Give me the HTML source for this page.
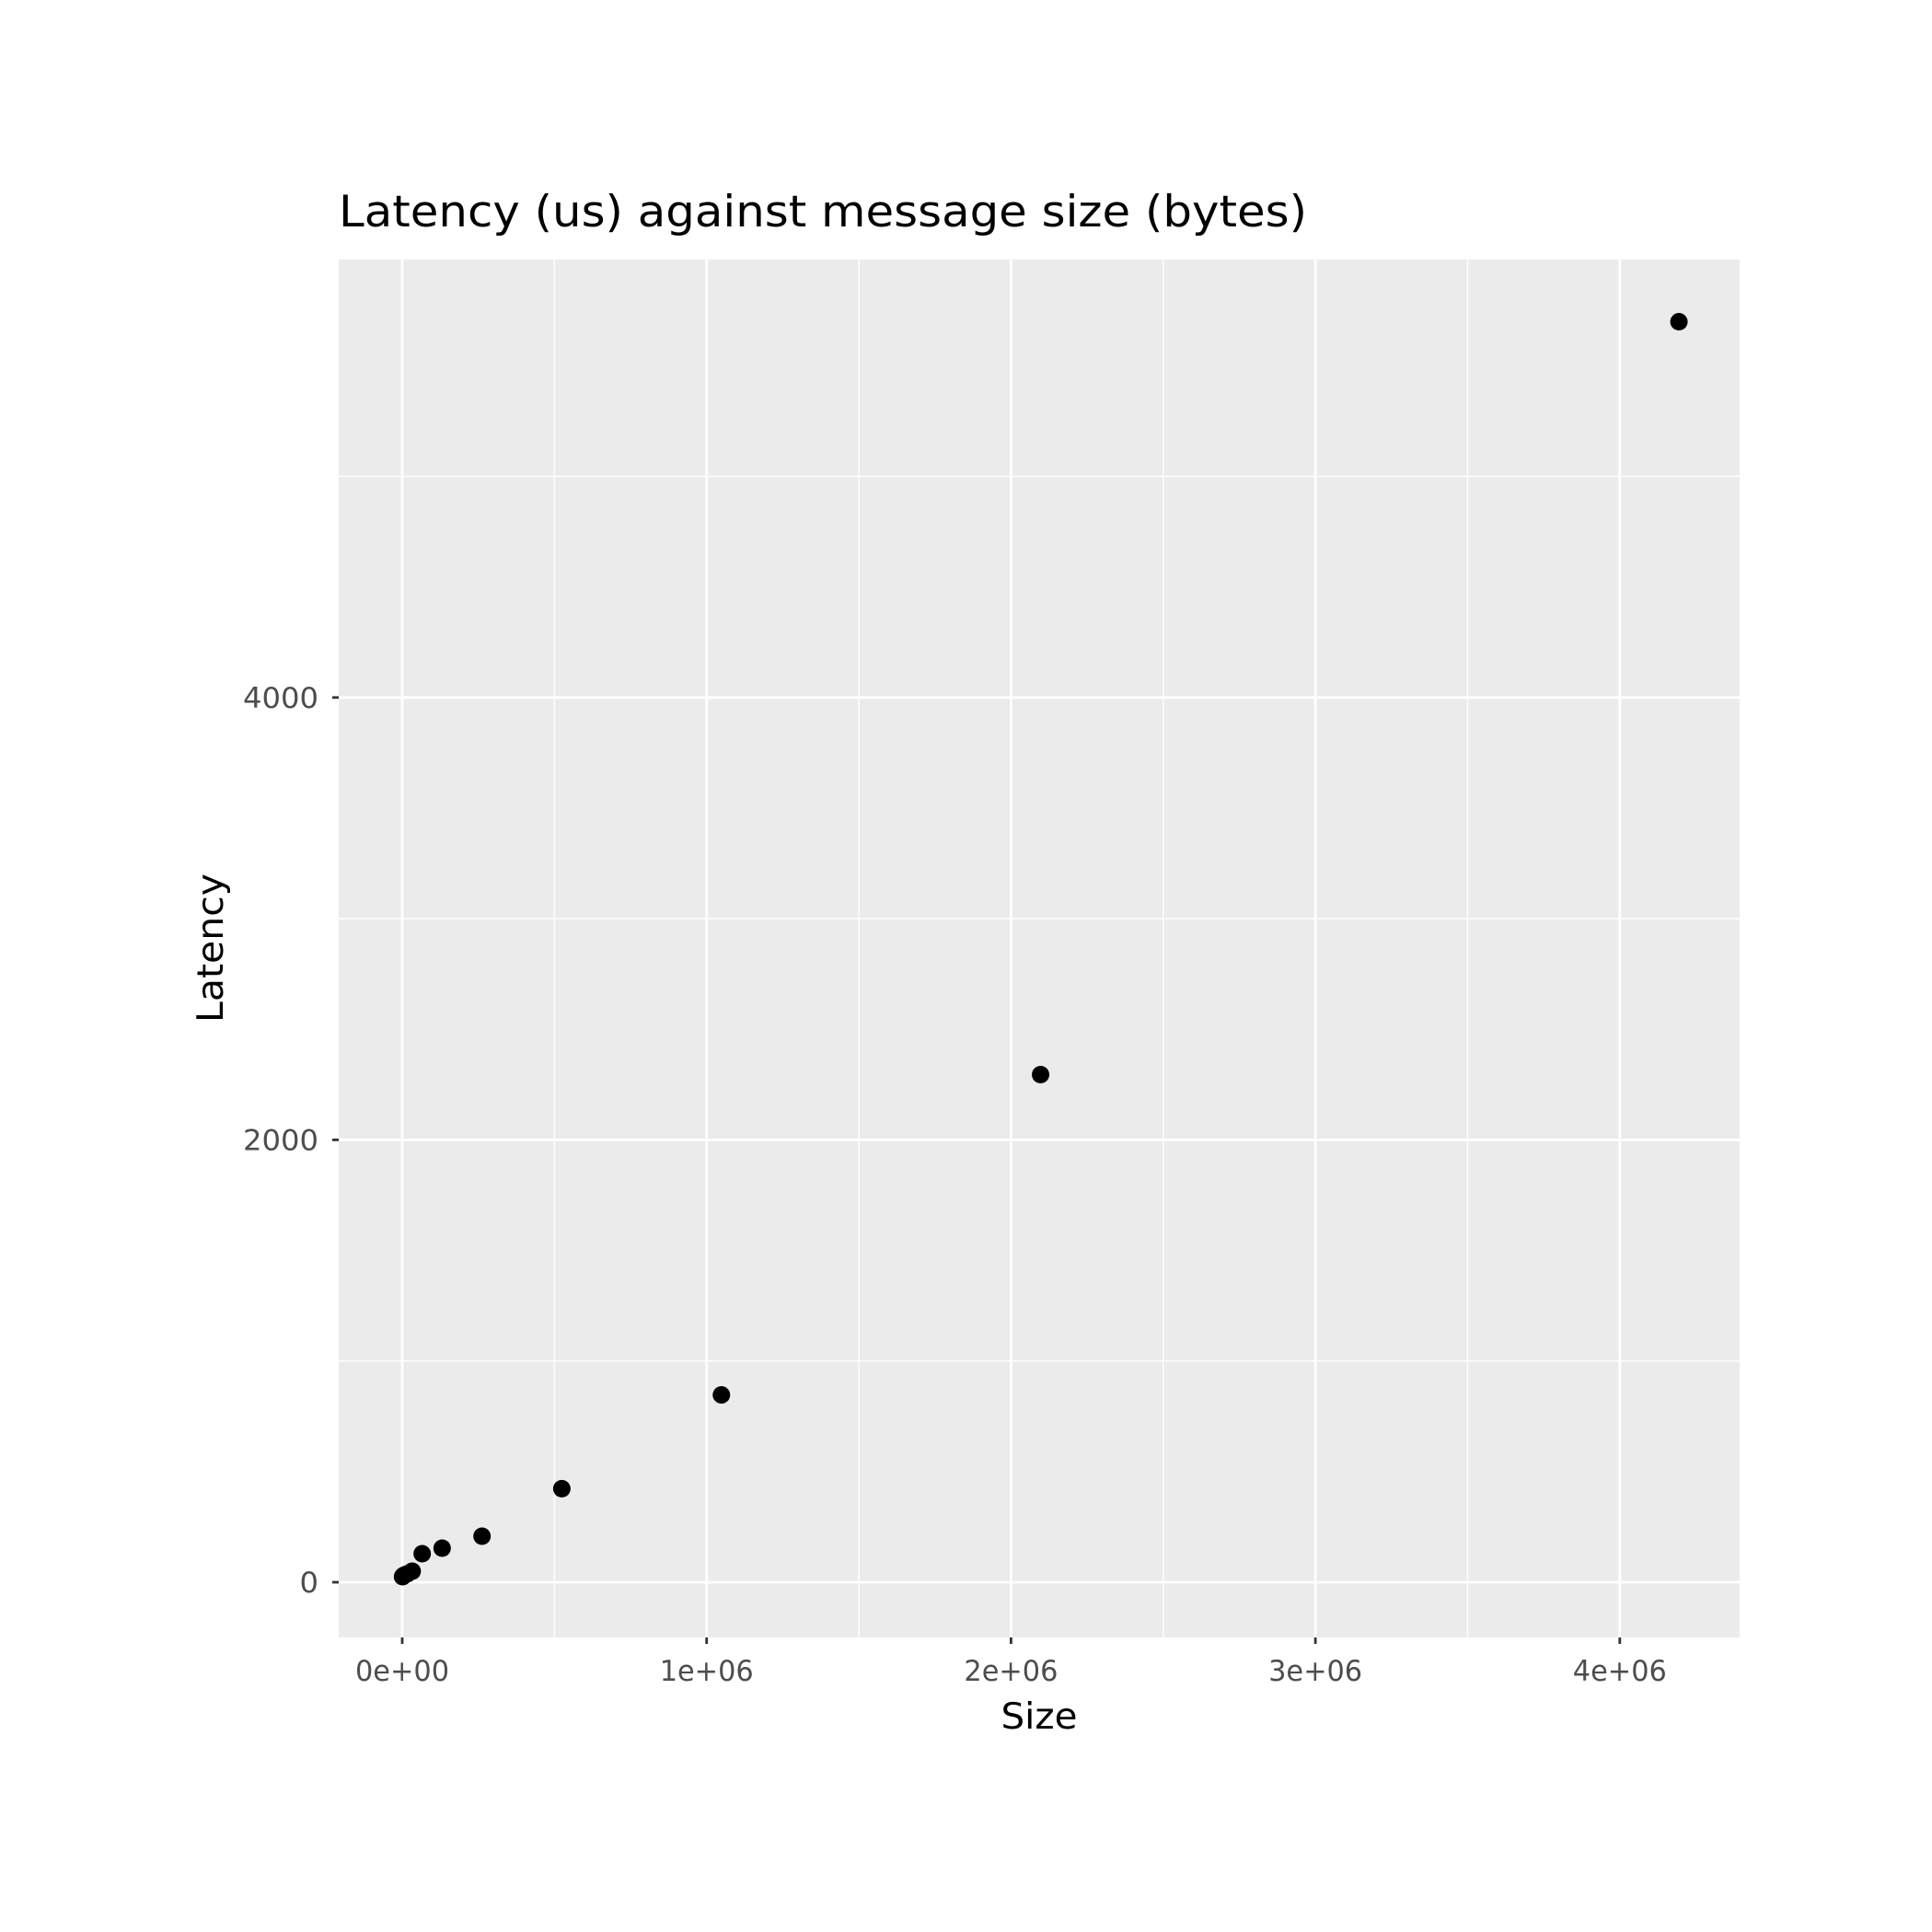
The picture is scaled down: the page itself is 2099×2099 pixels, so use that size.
<!DOCTYPE html>
<html><head><meta charset="utf-8"><style>html,body{margin:0;padding:0;background:#fff}svg{display:block}</style></head>
<body>
<svg id="chart" width="2099" height="2099" xmlns="http://www.w3.org/2000/svg" font-family="'DejaVu Sans', 'Liberation Sans', sans-serif"></svg>
<script>
const sizes = [1024, 2048, 4096, 8192, 16384, 32768, 65536, 131072, 262144, 524288, 1048576, 2097152, 4194304];
const latencies = [25, 27, 30, 33, 38, 50, 129, 154, 208, 423, 847, 2295, 5699];
const xTicks = [0, 1e6, 2e6, 3e6, 4e6];
const xTickLabels = ["0e+00", "1e+06", "2e+06", "3e+06", "4e+06"];
const xMinor = [0.5e6, 1.5e6, 2.5e6, 3.5e6];
const yTicks = [0, 2000, 4000];
const yTickLabels = ["0", "2000", "4000"];
const yMinor = [1000, 3000, 5000];

const P = {l: 368, r: 1890, t: 282, b: 1779};
const X = v => 437 + v * 330.7 / 1e6;
const Y = v => 1719 - v * 0.2403;
const NS = "http://www.w3.org/2000/svg";
const svg = document.getElementById('chart');
function mk(tag, attrs, parent) {
  const e = document.createElementNS(NS, tag);
  for (const k in attrs) e.setAttribute(k, attrs[k]);
  (parent || svg).appendChild(e);
  return e;
}
const bg = mk('rect', {x: P.l, y: P.t, width: P.r - P.l, height: P.b - P.t, fill: '#ebebeb'});


xMinor.forEach(v => { const l = mk('line', {x1: X(v), x2: X(v), y1: P.t, y2: P.b, stroke: '#fff', 'stroke-width': 1.4});
    });
yMinor.forEach(v => { const l = mk('line', {x1: P.l, x2: P.r, y1: Y(v), y2: Y(v), stroke: '#fff', 'stroke-width': 1.4});
    });
xTicks.forEach((v, i) => {
  const l = mk('line', {x1: X(v), x2: X(v), y1: P.t, y2: P.b, stroke: '#fff', 'stroke-width': 2.8});
   
  const t = mk('line', {x1: X(v), x2: X(v), y1: P.b, y2: P.b + 7, stroke: '#333', 'stroke-width': 2.8});
   
  const tx = mk('text', {x: X(v), y: P.b + 47, 'text-anchor': 'middle', 'font-size': 31, fill: '#4d4d4d', textLength: 102, lengthAdjust: 'spacingAndGlyphs'});
  tx.textContent = xTickLabels[i];
   
});
yTicks.forEach((v, i) => {
  const l = mk('line', {x1: P.l, x2: P.r, y1: Y(v), y2: Y(v), stroke: '#fff', 'stroke-width': 2.8});
   
  const t = mk('line', {x1: P.l - 7, x2: P.l, y1: Y(v), y2: Y(v), stroke: '#333', 'stroke-width': 2.8});
   
  const tx = mk('text', {x: P.l - 22, y: Y(v) + 11, 'text-anchor': 'end', 'font-size': 31, fill: '#4d4d4d', textLength: yTickLabels[i].length * 20.5, lengthAdjust: 'spacingAndGlyphs'});
  tx.textContent = yTickLabels[i];
   
});
sizes.forEach((s, i) => {
  const c = mk('circle', {cx: X(s), cy: Y(latencies[i]), r: 9.5, fill: '#000'});
   
});
const title = mk('text', {x: 368, y: 246, 'font-size': 47, fill: '#000', textLength: 1052, lengthAdjust: 'spacingAndGlyphs'});
title.textContent = 'Latency (us) against message size (bytes)';
 
const xt = mk('text', {x: 1129, y: 1878, 'text-anchor': 'middle', 'font-size': 39, fill: '#000', textLength: 83, lengthAdjust: 'spacingAndGlyphs'});
xt.textContent = 'Size';
 
const yt = mk('text', {x: 0, y: 0, 'text-anchor': 'middle', 'font-size': 39, fill: '#000', textLength: 162, lengthAdjust: 'spacingAndGlyphs', transform: 'translate(242,1030) rotate(-90)'});
yt.textContent = 'Latency';
 
</script>
</body></html>
